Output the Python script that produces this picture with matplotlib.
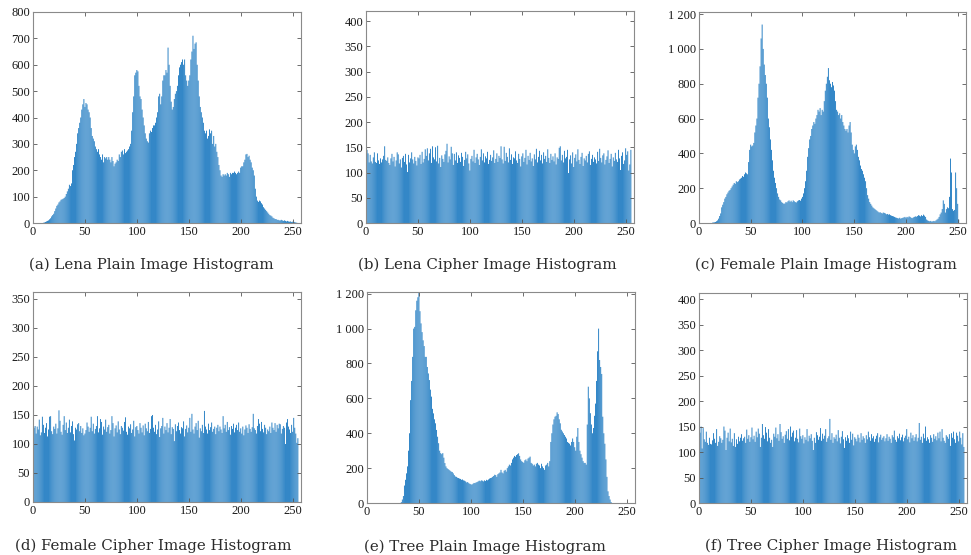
import numpy as np
import matplotlib
matplotlib.use("Agg")
import matplotlib.pyplot as plt
from matplotlib.ticker import FuncFormatter

gray_levels = np.arange(256)

lena_plain = [
    0, 0, 0, 0, 0, 0, 0, 0, 0, 0,
    1, 2, 4, 6, 8, 10, 14, 18, 25, 30,
    35, 45, 55, 65, 70, 78, 82, 88, 90, 92,
    95, 100, 110, 120, 130, 145, 140, 150, 200, 220,
    250, 270, 300, 340, 360, 380, 400, 430, 450, 470,
    440, 455, 450, 430, 420, 400, 360, 330, 320, 310,
    290, 280, 270, 280, 260, 250, 240, 260, 230, 250,
    245, 250, 240, 250, 240, 230, 250, 235, 215, 225,
    230, 240, 235, 260, 250, 270, 275, 260, 280, 265,
    270, 275, 280, 290, 300, 350, 420, 480, 560, 570,
    580, 575, 520, 480, 470, 430, 400, 370, 340, 320,
    310, 305, 340, 350, 345, 360, 370, 370, 380, 400,
    420, 480, 490, 450, 480, 540, 560, 560, 580, 570,
    665, 600, 520, 460, 430, 440, 470, 490, 500, 520,
    560, 590, 600, 610, 620, 600, 620, 560, 540, 520,
    540, 560, 620, 650, 710, 660, 680, 685, 600, 540,
    480, 440, 420, 400, 380, 350, 340, 350, 320, 330,
    355, 340, 350, 300, 330, 290, 300, 270, 250, 220,
    200, 180, 175, 185, 180, 185, 180, 190, 185, 175,
    190, 185, 190, 190, 195, 190, 185, 190, 195, 190,
    210, 215, 215, 230, 240, 260, 262, 250, 255, 240,
    230, 210, 200, 180, 130, 100, 85, 80, 85, 82,
    75, 70, 60, 55, 50, 45, 40, 35, 30, 28,
    25, 20, 18, 15, 15, 12, 12, 10, 10, 12,
    10, 8, 10, 8, 6, 8, 6, 5, 6, 4,
    5, 3, 4, 2, 1, 0,
]

lena_cipher = [
    182, 145, 138, 120, 135, 122, 118, 130, 140, 121,
    119, 138, 124, 117, 128, 120, 126, 133, 152, 125,
    123, 130, 119, 115, 128, 137, 122, 131, 112, 124,
    140, 136, 118, 126, 110, 129, 133, 121, 137, 116,
    101, 135, 120, 128, 140, 126, 118, 131, 123, 114,
    130, 128, 135, 117, 141, 120, 127, 146, 133, 148,
    124, 138, 147, 119, 152, 130, 126, 150, 122, 153,
    118, 129, 111, 134, 127, 121, 136, 143, 157, 120,
    132, 126, 151, 138, 115, 137, 124, 140, 119, 134,
    129, 121, 139, 131, 113, 125, 141, 128, 136, 118,
    104, 127, 133, 122, 145, 119, 130, 137, 126, 115,
    131, 146, 124, 138, 120, 132, 128, 141, 117, 125,
    135, 123, 130, 144, 119, 127, 138, 121, 133, 129,
    152, 126, 118, 151, 123, 139, 131, 120, 148, 125,
    136, 117, 130, 128, 142, 124, 119, 137, 127, 112,
    132, 138, 121, 129, 145, 116, 133, 125, 139, 122,
    128, 113, 136, 126, 147, 120, 131, 143, 124, 135,
    118, 140, 127, 133, 121, 146, 129, 119, 137, 125,
    132, 122, 138, 116, 130, 127, 149, 152, 124, 135,
    120, 143, 128, 131, 145, 99, 126, 134, 118, 140,
    111, 129, 136, 122, 146, 125, 117, 131, 139, 113,
    128, 124, 133, 120, 137, 142, 115, 127, 135, 121,
    130, 126, 118, 141, 123, 147, 129, 120, 134, 138,
    116, 125, 132, 144, 119, 127, 137, 112, 130, 123,
    139, 126, 121, 145, 128, 105, 133, 140, 117, 124,
    148, 135, 142, 104, 116, 145,
]

female_plain = [
    0, 0, 0, 0, 0, 0, 0, 0, 0, 0,
    0, 0, 0, 2, 3, 4, 6, 10, 15, 25,
    40, 55, 90, 105, 120, 140, 150, 165, 175, 185,
    190, 200, 210, 220, 230, 225, 240, 235, 240, 250,
    255, 260, 270, 265, 280, 290, 285, 280, 350, 420,
    450, 440, 445, 460, 520, 560, 600, 720, 800, 900,
    1060, 1140, 1000, 910, 850, 800, 720, 600, 550, 480,
    420, 360, 300, 260, 230, 200, 170, 150, 135, 130,
    120, 115, 110, 112, 120, 118, 125, 130, 122, 128,
    120, 130, 125, 120, 118, 125, 130, 132, 128, 140,
    150, 170, 200, 240, 300, 380, 430, 480, 500, 540,
    560, 580, 570, 600, 620, 650, 640, 660, 620, 650,
    640, 700, 760, 800, 840, 890, 820, 800, 780, 810,
    790, 760, 700, 650, 640, 620, 630, 600, 620, 580,
    560, 540, 530, 540, 520, 560, 580, 520, 450, 420,
    400, 440, 450, 420, 380, 360, 330, 310, 300, 280,
    260, 240, 200, 160, 140, 120, 110, 100, 90, 85,
    80, 75, 70, 65, 60, 62, 58, 55, 60, 58,
    55, 50, 52, 48, 50, 45, 42, 40, 38, 35,
    32, 30, 28, 26, 30, 25, 28, 30, 32, 35,
    30, 35, 32, 38, 35, 30, 28, 32, 35, 38,
    36, 40, 45, 42, 38, 45, 40, 48, 42, 35,
    20, 15, 12, 10, 12, 8, 10, 12, 10, 15,
    20, 25, 35, 50, 60, 80, 130, 110, 60, 80,
    90, 85, 150, 370, 290, 80, 70, 75, 290, 200,
    110, 20, 0, 0, 0, 0,
]

female_cipher = [
    158, 128, 131, 118, 130, 125, 142, 115, 120, 147,
    133, 119, 128, 136, 113, 125, 147, 148, 122, 117,
    130, 126, 135, 118, 127, 158, 140, 121, 116, 133,
    148, 124, 137, 119, 128, 142, 120, 131, 139, 117,
    106, 128, 125, 134, 136, 122, 131, 119, 127, 115,
    118, 124, 137, 130, 121, 128, 147, 122, 135, 118,
    126, 131, 148, 120, 127, 143, 138, 116, 130, 125,
    142, 121, 129, 133, 118, 124, 148, 136, 113, 127,
    132, 120, 139, 125, 117, 131, 128, 123, 138, 146,
    121, 116, 130, 127, 134, 119, 125, 140, 113, 129,
    131, 124, 118, 136, 128, 120, 132, 115, 135, 127,
    122, 138, 119, 126, 148, 150, 128, 121, 133, 117,
    125, 139, 112, 127, 131, 145, 118, 130, 124, 136,
    120, 128, 143, 117, 129, 126, 105, 134, 122, 131,
    137, 124, 118, 129, 127, 139, 113, 126, 132, 120,
    128, 145, 121, 152, 125, 118, 130, 136, 124, 140,
    111, 127, 122, 133, 119, 157, 130, 125, 118, 135,
    124, 129, 137, 121, 126, 130, 117, 128, 133, 122,
    130, 125, 119, 148, 127, 133, 121, 138, 124, 129,
    116, 131, 126, 135, 120, 128, 133, 124, 137, 121,
    127, 118, 130, 115, 125, 132, 128, 119, 134, 126,
    121, 129, 152, 127, 124, 118, 131, 143, 135, 122,
    138, 126, 120, 133, 128, 117, 125, 122, 130, 119,
    137, 128, 124, 136, 121, 133, 127, 135, 134, 118,
    126, 131, 128, 100, 137, 143, 130, 125, 119, 133,
    121, 145, 128, 118, 102, 110,
]

tree_plain = [
    257, 0, 0, 0, 0, 0, 0, 0, 0, 0,
    0, 0, 0, 0, 0, 0, 0, 0, 0, 0,
    0, 0, 0, 0, 0, 0, 0, 0, 0, 0,
    0, 0, 0, 5, 20, 40, 100, 133, 170, 210,
    300, 400, 590, 700, 838, 1000, 1010, 1105, 1160, 1180,
    1210, 1100, 1030, 980, 933, 900, 838, 838, 780, 743,
    705, 650, 610, 540, 514, 480, 457, 419, 380, 343,
    300, 286, 280, 286, 260, 229, 210, 200, 195, 190,
    185, 180, 178, 170, 160, 152, 150, 145, 143, 140,
    138, 133, 135, 130, 128, 124, 118, 120, 114, 110,
    108, 105, 110, 115, 114, 118, 120, 124, 128, 125,
    130, 128, 124, 130, 126, 133, 130, 135, 140, 143,
    145, 150, 155, 162, 160, 150, 165, 170, 175, 190,
    175, 170, 185, 190, 180, 200, 210, 220, 215, 230,
    250, 260, 270, 265, 275, 280, 285, 270, 250, 240,
    235, 230, 245, 250, 240, 255, 260, 266, 230, 225,
    215, 220, 210, 225, 230, 220, 215, 200, 225, 210,
    200, 190, 215, 220, 230, 210, 240, 350, 400, 450,
    480, 495, 500, 520, 510, 480, 457, 420, 410, 400,
    390, 380, 370, 350, 345, 340, 330, 350, 370, 350,
    320, 300, 380, 430, 350, 300, 280, 260, 240, 230,
    230, 220, 450, 667, 600, 515, 450, 400, 430, 500,
    570, 700, 870, 1000, 820, 780, 740, 495, 400, 340,
    250, 150, 67, 40, 20, 5, 0, 0, 0, 0,
    0, 0, 0, 0, 0, 0, 0, 0, 0, 0,
    0, 0, 0, 0, 0, 0,
]

tree_cipher = [
    180, 138, 150, 107, 147, 125, 120, 140, 118, 114,
    128, 116, 115, 123, 137, 126, 118, 145, 112, 120,
    131, 127, 118, 124, 150, 142, 104, 128, 138, 121,
    146, 119, 126, 112, 137, 110, 125, 116, 130, 121,
    128, 135, 122, 127, 130, 118, 144, 126, 133, 120,
    129, 148, 125, 132, 120, 140, 129, 146, 136, 110,
    128, 155, 133, 126, 149, 138, 121, 145, 128, 118,
    124, 110, 136, 130, 148, 127, 135, 122, 155, 139,
    126, 131, 118, 134, 141, 126, 145, 123, 150, 130,
    138, 142, 121, 128, 143, 126, 119, 146, 131, 126,
    133, 117, 129, 124, 145, 121, 132, 127, 135, 122,
    104, 128, 118, 139, 133, 124, 130, 147, 122, 136,
    126, 132, 145, 120, 127, 131, 165, 124, 137, 118,
    129, 126, 134, 121, 143, 128, 117, 130, 141, 125,
    108, 129, 122, 133, 127, 118, 140, 124, 136, 113,
    129, 126, 121, 134, 128, 119, 137, 124, 131, 127,
    118, 133, 125, 140, 129, 122, 135, 127, 131, 120,
    126, 132, 137, 119, 129, 134, 124, 128, 131, 121,
    127, 135, 122, 130, 126, 118, 133, 129, 142, 124,
    120, 131, 127, 136, 123, 129, 134, 121, 128, 132,
    145, 125, 130, 119, 138, 127, 133, 122, 129, 135,
    121, 128, 157, 124, 130, 118, 136, 127, 150, 122,
    129, 125, 118, 133, 128, 120, 135, 126, 131, 123,
    138, 127, 140, 121, 145, 128, 122, 118, 133, 130,
    126, 135, 112, 137, 128, 140, 125, 118, 138, 132,
    121, 140, 128, 115, 137, 110,
]

captions = [
    "(a) Lena Plain Image Histogram",
    "(b) Lena Cipher Image Histogram",
    "(c) Female Plain Image Histogram",
    "(d) Female Cipher Image Histogram",
    "(e) Tree Plain Image Histogram",
    "(f) Tree Cipher Image Histogram",
]


def thousands(v, pos):
    s = str(int(round(v)))
    if len(s) > 3:
        s = s[:-3] + " " + s[-3:]
    return s


W, H = 971, 555
fig = plt.figure(figsize=(W / 100, H / 100), dpi=100)

# (data, ymax, ystep, axes box in pixels: left, top, right, bottom, caption centre x, caption y)
panels = [
    (lena_plain, 800, 100, (33, 12, 301, 223), 151, 265),
    (lena_cipher, 420, 50, (366, 11, 634, 223), 487, 265),
    (female_plain, 1212, 200, (699, 12, 966, 223), 826, 265),
    (female_cipher, 362, 50, (33, 292, 301, 502), 153, 546),
    (tree_plain, 1210, 200, (367, 292, 635, 503), 485, 547),
    (tree_cipher, 412, 50, (699, 293, 967, 503), 831, 546),
]

for (vals, ymax, ystep, box, cx, cy), cap in zip(panels, captions):
    assert len(vals) == 256
    l, t, r, b = box
    ax = fig.add_axes([l / W, 1 - b / H, (r - l) / W, (b - t) / H])
    bars = ax.bar(gray_levels, vals, width=0.8, color="#0b6fbc", linewidth=0)
    for p in bars:
        p.set_snap(False)
    ax.set_xlim(0, 258)
    ax.set_ylim(0, ymax)
    ax.set_xticks(np.arange(0, 251, 50))
    ax.set_yticks(np.arange(0, ymax + 1, ystep))
    ax.yaxis.set_major_formatter(FuncFormatter(thousands))
    ax.tick_params(direction="in", length=3, width=0.6, color="#555555",
                   top=True, right=True, labelsize=9, labelcolor="#1a1a1a", pad=2)
    for lab in ax.get_xticklabels() + ax.get_yticklabels():
        lab.set_family("Liberation Serif")
    for sp in ax.spines.values():
        sp.set_color("#8a8a8a")
        sp.set_linewidth(0.8)
    fig.text(cx / W, 1 - cy / H, cap, ha="center", va="center",
             family="DejaVu Serif", fontsize=10.8, color="#2a2a2a")

fig.savefig("out.png", dpi=100)
